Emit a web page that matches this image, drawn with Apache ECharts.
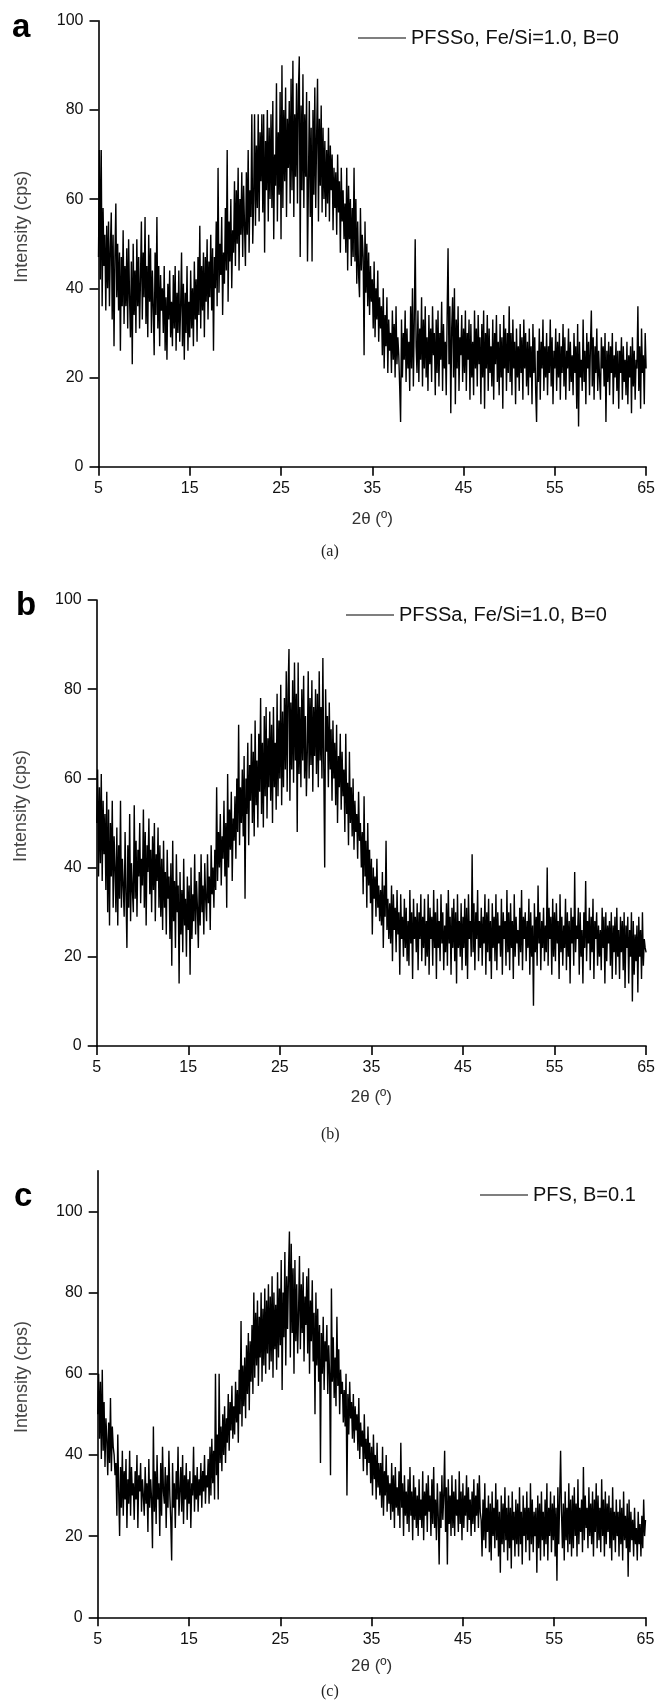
<!DOCTYPE html>
<html><head><meta charset="utf-8">
<script src="https://cdn.jsdelivr.net/npm/echarts@6/dist/echarts.min.js"></script>
<style>html,body{margin:0;padding:0;background:#fff}#c{width:658px;height:1704px}</style>
</head><body><div id="c"></div>
<script>
// scan grid (2θ, degrees): values below are equally spaced from scanStart to scanEnd
const scanStart = 5, scanEnd = 65;
const xTicks = [5, 15, 25, 35, 45, 55, 65];
const yTicks = [0, 20, 40, 60, 80, 100];
const seriesNames = ['PFSSo, Fe/Si=1.0, B=0', 'PFSSa, Fe/Si=1.0, B=0', 'PFS, B=0.1'];
const panelLetters = ['a', 'b', 'c'];
const captions = ['(a)', '(b)', '(c)'];
const yMax = [100, 100, 110];

// Intensity (cps), every 0.1°
const intensityA = [
47,71,42,71,36,58,45,52,35,54,
40,55,36,49,57,33,52,27,47,59,
38,50,35,48,26,47,36,53,32,45,
36,49,31,51,38,29,46,23,50,34,
44,30,51,36,47,31,42,55,33,48,
38,56,32,45,29,52,37,49,30,44,
36,25,48,34,56,31,45,27,43,35,
40,30,45,26,38,24,41,33,44,29,
37,27,43,31,45,26,39,30,44,28,
36,48,27,41,24,39,30,45,26,37,
29,44,31,40,27,46,33,42,28,47,
34,54,31,45,35,48,29,47,37,51,
33,46,38,52,35,49,26,47,40,55,
36,67,39,50,43,56,34,48,41,58,
44,71,37,55,46,60,40,53,48,64,
45,62,50,67,44,60,52,66,47,63,
54,45,66,52,71,48,62,56,79,50,
60,79,54,72,58,79,55,75,64,79,
57,79,48,73,62,80,55,76,60,79,
58,82,51,70,63,86,55,75,61,84,
51,90,58,80,64,85,56,78,67,82,
59,87,62,91,56,79,65,86,59,84,
92,47,81,62,88,58,79,65,84,46,
63,82,56,76,46,80,61,85,58,74,
87,55,78,63,81,57,76,60,73,56,
71,59,76,55,72,62,70,53,67,58,
66,52,70,57,64,48,67,55,62,51,
59,48,67,44,63,51,60,45,58,47,
67,46,60,41,55,43,38,58,44,52,
47,25,55,39,50,36,48,34,45,37,
42,31,46,29,40,33,44,28,38,31,
36,25,40,22,34,27,38,21,33,26,
30,21,35,24,32,20,36,23,29,25,
18,10,33,20,30,24,35,19,31,22,
28,17,36,22,40,18,33,51,27,21,
35,19,31,24,38,18,33,22,36,20,
29,17,34,23,31,19,36,25,30,16,
33,21,35,18,30,24,37,17,32,22,
28,16,34,49,23,36,12,31,38,20,
40,14,33,22,36,17,29,25,34,19,
31,21,35,17,30,24,33,15,32,20,
28,16,35,22,31,18,34,23,29,14,
32,20,35,13,30,22,34,17,31,21,
27,18,33,15,30,23,34,19,28,16,
32,20,29,13,34,22,31,17,30,21,
36,19,30,16,33,22,28,14,31,20,
27,17,32,21,29,15,33,22,30,18,
28,16,31,20,27,14,32,21,29,17,
10,26,19,31,15,28,22,33,17,27,
20,30,16,27,21,33,18,29,14,26,
22,31,17,28,20,30,15,27,21,32,
18,29,15,26,22,31,17,28,19,25,
16,30,21,27,13,32,9,28,20,24,
17,33,19,26,14,30,22,28,16,27,
35,18,29,15,27,21,31,17,26,20,
15,29,22,27,18,30,10,26,19,28,
16,27,21,30,14,25,20,28,17,26,
13,26,21,29,15,27,19,24,16,28,
14,25,20,27,12,29,18,26,15,24,
22,36,17,27,13,31,21,25,14,30,
22];

// Intensity (cps)
const intensityB = [
50,62,38,58,41,61,37,55,43,52,
35,57,30,53,27,50,38,55,31,47,
40,30,49,27,45,33,55,31,42,36,
29,48,34,22,45,31,52,28,41,35,
30,54,33,46,29,44,38,50,32,42,
36,53,31,48,27,45,39,51,34,44,
30,47,35,50,28,43,37,49,31,45,
29,42,26,46,31,39,25,44,33,38,
24,41,18,46,28,37,22,43,30,36,
14,39,25,35,21,42,27,33,20,38,
26,36,16,40,24,34,28,43,25,37,
31,22,39,27,43,30,36,25,41,33,
28,43,32,38,26,45,34,40,31,44,
35,58,37,48,40,52,36,47,42,55,
38,50,31,61,40,53,44,57,37,51,
46,56,42,60,48,72,45,58,50,62,
47,65,33,60,52,68,45,63,55,70,
50,66,47,73,54,64,49,70,57,78,
52,68,49,74,56,76,51,69,58,75,
55,72,50,76,58,68,53,79,56,73,
60,81,54,75,58,78,62,84,57,80,
89,55,77,62,82,59,86,64,79,48,
86,61,76,58,80,64,83,60,74,56,
66,84,60,78,63,82,57,76,65,80,
61,79,58,84,64,76,60,87,62,40,
80,66,74,58,77,62,71,55,73,60,
68,54,72,50,65,58,70,53,66,56,
62,48,70,52,59,45,66,50,58,47,
60,44,55,48,52,42,57,46,50,40,
48,34,56,38,46,31,50,36,44,32,
42,25,40,33,38,29,42,31,36,28,
35,27,39,22,36,29,46,26,33,24,
32,23,36,19,34,26,31,21,35,25,
30,16,34,24,29,20,33,22,31,19,
28,18,35,23,30,15,33,24,29,21,
32,17,30,24,34,19,29,22,33,18,
28,20,34,16,31,24,29,18,35,22,
30,15,33,22,28,19,34,23,30,17,
27,21,32,18,35,23,29,16,31,22,
33,19,30,14,34,22,28,20,32,17,
29,22,33,18,31,15,34,24,28,20,
43,21,32,17,30,24,35,19,28,22,
31,18,29,23,34,16,30,21,33,19,
28,15,32,22,29,19,34,17,30,23,
27,20,33,16,30,24,28,18,35,21,
30,17,32,22,28,15,34,20,29,23,
26,18,31,21,35,17,29,24,30,19,
28,22,33,16,30,20,27,9,32,21,
29,18,36,23,30,17,28,22,31,19,
27,21,40,18,31,24,29,16,33,20,
30,19,32,23,28,15,34,21,29,18,
27,22,33,17,30,20,28,14,31,23,
29,18,39,21,27,24,31,16,30,20,
26,14,30,22,37,19,28,23,31,17,
29,21,33,15,28,24,30,18,27,20,
26,17,31,22,29,14,30,19,27,23,
28,18,30,15,27,21,29,16,31,20,
26,15,29,21,28,17,30,13,27,22,
29,14,26,20,30,10,28,16,25,19,
27,12,29,20,26,15,30,18,24,22,
21];

// Intensity (cps)
const intensityC = [
50,60,44,58,39,61,41,53,37,49,
44,35,48,38,54,36,47,42,40,35,
38,25,45,31,20,37,27,41,25,36,
29,39,22,34,28,41,25,37,30,33,
24,36,29,40,22,35,31,38,26,34,
30,25,37,28,33,21,39,27,34,29,
17,47,26,36,23,40,29,33,20,38,
25,42,31,28,37,22,35,27,41,30,
24,14,38,27,33,22,36,29,42,25,
31,37,26,40,23,35,29,38,24,34,
28,36,22,33,30,42,26,35,29,37,
26,34,30,38,27,36,31,40,28,35,
32,39,28,42,30,44,33,41,29,60,
35,45,29,60,38,47,36,50,40,52,
38,49,43,55,41,53,46,57,44,52,
45,58,48,56,43,61,50,73,47,62,
52,64,49,67,55,70,51,68,58,72,
55,80,59,75,62,78,57,74,64,80,
58,76,62,81,60,78,65,82,61,79,
63,84,59,80,66,77,61,85,64,81,
67,88,56,80,69,90,62,84,71,85,
95,64,92,70,86,60,88,68,82,65,
75,89,66,82,70,85,63,79,72,84,
65,86,60,78,68,83,63,75,50,80,
62,76,58,72,38,70,60,74,56,68,
63,72,55,67,60,35,81,58,69,54,
64,52,74,57,66,50,61,55,58,48,
56,47,60,30,55,45,58,49,53,44,
55,43,52,46,50,41,54,39,48,42,
46,36,50,39,44,35,47,38,43,33,
42,30,45,34,40,29,43,32,38,30,
38,27,42,25,36,30,40,26,35,28,
33,24,38,26,35,22,37,27,32,25,
36,22,43,27,33,20,35,25,31,23,
34,21,37,25,31,19,35,24,32,22,
30,20,34,24,29,22,36,19,31,25,
33,21,35,26,30,20,34,23,37,22,
29,19,33,25,13,31,22,35,24,30,
41,21,32,13,34,23,30,20,35,22,
31,20,34,25,29,21,36,23,31,19,
33,22,30,25,35,21,32,24,29,20,
31,23,34,21,30,25,33,22,35,26,
24,15,29,19,33,17,27,21,30,16,
28,14,31,20,27,17,33,19,29,15,
26,11,30,18,28,16,32,19,27,14,
30,17,27,12,31,19,26,15,29,18,
28,15,32,18,26,13,30,20,27,16,
31,19,27,14,33,18,29,16,26,20,
27,11,30,17,28,14,31,19,26,15,
29,18,33,14,27,20,31,16,28,19,
30,15,27,9,32,18,29,41,26,17,
28,14,31,19,27,16,33,18,29,15,
30,17,32,20,28,15,34,18,27,21,
29,16,37,19,30,22,27,17,32,20,
28,18,31,15,29,21,33,17,30,19,
27,16,34,20,29,15,31,18,28,21,
30,17,27,14,32,19,26,16,29,20,
26,15,29,18,27,14,31,19,25,17,
28,10,29,16,26,19,24,15,27,18,
22,14,26,18,23,15,25,17,29,20,
24];

const allData = [intensityA, intensityB, intensityC];
function toPairs(vals) {
  const n = vals.length;
  return vals.map((v, i) => [scanStart + i * (scanEnd - scanStart) / (n - 1), v]);
}

const FONT = 'Liberation Sans';
const grids = [
  {left: 98.5, right: 11, top: 20.7, height: 446},
  {left: 96.7, right: 11.7, top: 600, height: 446},
  {left: 97.7, right: 12.5, top: 1170.7, height: 446.6}
];
const legendPos = [{left: 358, top: 28}, {left: 346, top: 605}, {left: 480, top: 1185}];
const xNameGap = [44, 43, 41];

const option = {
  animation: false,
  backgroundColor: '#fff',
  grid: grids,
  legend: seriesNames.map((nm, i) => ({
    data: [nm], left: legendPos[i].left, top: legendPos[i].top, padding: 0,
    icon: 'rect', itemWidth: 48, itemHeight: 1.2,
    textStyle: {fontFamily: FONT, fontSize: 20, color: '#111'},
    selectedMode: false
  })),
  xAxis: grids.map((g, i) => ({
    type: 'value', gridIndex: i, min: scanStart, max: scanEnd, interval: 10,
    name: '2θ (º)', nameLocation: 'middle', nameGap: xNameGap[i],
    nameTextStyle: {fontFamily: FONT, fontSize: 17, color: '#333'},
    axisLine: {onZero: false, lineStyle: {color: '#000', width: 1.6}},
    axisTick: {show: true, inside: false, length: 9, lineStyle: {color: '#000', width: 1.6}, customValues: xTicks},
    axisLabel: {fontFamily: FONT, fontSize: 16, color: '#111', margin: 14, customValues: xTicks},
    splitLine: {show: false}
  })),
  yAxis: grids.map((g, i) => ({
    type: 'value', gridIndex: i, min: 0, max: yMax[i], interval: 20,
    name: 'Intensity (cps)', nameLocation: 'middle', nameGap: 67, nameRotate: 90,
    nameTextStyle: {fontFamily: FONT, fontSize: 18, color: '#444', padding: [0, 0, 0, 34]},
    axisLine: {onZero: false, lineStyle: {color: '#000', width: 1.6}},
    axisTick: {show: true, inside: false, length: 9, lineStyle: {color: '#000', width: 1.6}, customValues: yTicks},
    axisLabel: {fontFamily: FONT, fontSize: 16, color: '#111', margin: 15, customValues: yTicks,
      formatter: v => (yTicks.indexOf(v) >= 0 ? String(v) : '')},
    splitLine: {show: false}
  })),
  series: allData.map((d, i) => ({
    name: seriesNames[i], type: 'line', xAxisIndex: i, yAxisIndex: i,
    data: toPairs(d), showSymbol: false, symbol: 'none', sampling: null,
    lineStyle: {color: '#000', width: 1.4}, itemStyle: {color: '#000'}
  })),
  graphic: [
    {type: 'text', left: 12, top: 11, style: {text: panelLetters[0], font: 'bold 33px "Liberation Sans"', fill: '#000'}},
    {type: 'text', left: 16, top: 589, style: {text: panelLetters[1], font: 'bold 33px "Liberation Sans"', fill: '#000'}},
    {type: 'text', left: 14, top: 1180, style: {text: panelLetters[2], font: 'bold 33px "Liberation Sans"', fill: '#000'}},
    {type: 'text', left: 321, top: 544, style: {text: captions[0], font: '16px "Liberation Serif"', fill: '#222'}},
    {type: 'text', left: 321, top: 1127, style: {text: captions[1], font: '16px "Liberation Serif"', fill: '#222'}},
    {type: 'text', left: 321, top: 1684, style: {text: captions[2], font: '16px "Liberation Serif"', fill: '#222'}}
  ]
};
const chart = echarts.init(document.getElementById('c'), null, {renderer: 'canvas'});
chart.setOption(option);
</script></body></html>
